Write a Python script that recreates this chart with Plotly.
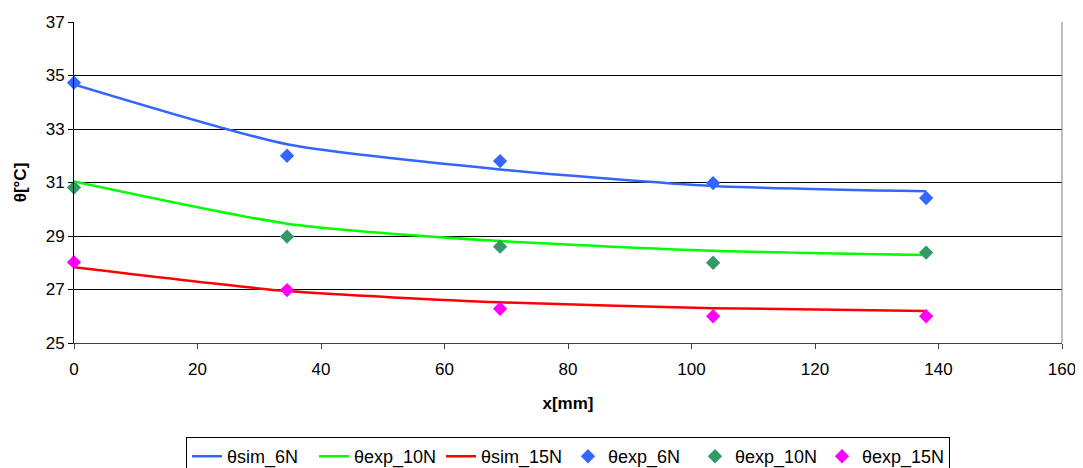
import plotly.graph_objects as go

x_mm = [0, 34.5, 69, 103.5, 138]

sim_6N = [34.67, 32.43, 31.49, 30.87, 30.67]
sim_10N = [31.04, 29.46, 28.81, 28.45, 28.29]
sim_15N = [27.83, 26.94, 26.52, 26.30, 26.20]

exp_6N = [34.73, 32.0, 31.8, 30.98, 30.42]
exp_10N = [30.81, 28.98, 28.6, 28.0, 28.38]
exp_15N = [28.02, 26.98, 26.28, 26.0, 26.0]

x_ticks = [0, 20, 40, 60, 80, 100, 120, 140, 160]
y_ticks = [25, 27, 29, 31, 33, 35, 37]

fig = go.Figure()
line_series = [
    ("θsim_6N", sim_6N, "#3366FF"),
    ("θexp_10N", sim_10N, "#00FF00"),
    ("θsim_15N", sim_15N, "#FF0000"),
]
for name, ys, col in line_series:
    fig.add_trace(go.Scatter(x=x_mm, y=ys, mode="lines", name=name,
                             line=dict(color=col, width=2.5, shape="spline", smoothing=0.6)))

marker_series = [
    ("θexp_6N", exp_6N, "#3366FF"),
    ("θexp_10N", exp_10N, "#339966"),
    ("θexp_15N", exp_15N, "#FF00FF"),
]
for name, ys, col in marker_series:
    fig.add_trace(go.Scatter(x=x_mm, y=ys, mode="markers", name=name,
                             marker=dict(color=col, symbol="diamond", size=11, line=dict(width=0)),
                             cliponaxis=False))

font_family = "Liberation Sans, Arial, sans-serif"
# page body has an 8px margin, so the figure is sized/positioned to compensate
fig.update_layout(
    width=1075, height=460,
    margin=dict(l=66, r=21, t=14, b=125, autoexpand=False),
    paper_bgcolor="white", plot_bgcolor="white",
    font=dict(family=font_family, size=17, color="black"),
    showlegend=True,
    legend=dict(orientation="h", x=0.5, xanchor="center", y=-0.293, yanchor="top",
                bordercolor="#000000", borderwidth=1, font=dict(size=18),
                itemwidth=30, traceorder="normal", entrywidth=82, entrywidthmode="pixels"),
)
fig.update_xaxes(range=[0, 160], tickvals=x_ticks, ticks="outside", ticklen=5,
                 tickcolor="#404040", showline=True, linecolor="#404040", linewidth=1,
                 showgrid=False, zeroline=False, mirror=False, automargin=False,
                 ticklabelstandoff=6,
                 title=dict(text="<b>x[mm]</b>", font=dict(size=17), standoff=18))
fig.update_yaxes(range=[25, 37], tickvals=y_ticks, ticks="outside", ticklen=5,
                 tickcolor="#000000", showline=True, linecolor="#000000", linewidth=1,
                 showgrid=True, gridcolor="#000000", gridwidth=1, zeroline=False, automargin=False,
                 title=dict(text="<b>θ[°C]</b>", font=dict(size=17), standoff=14))
# right border of plot area
fig.add_shape(type="line", xref="paper", yref="paper", x0=1, x1=1, y0=0, y1=1,
              line=dict(color="#808080", width=1))

fig.write_html("out.html")
